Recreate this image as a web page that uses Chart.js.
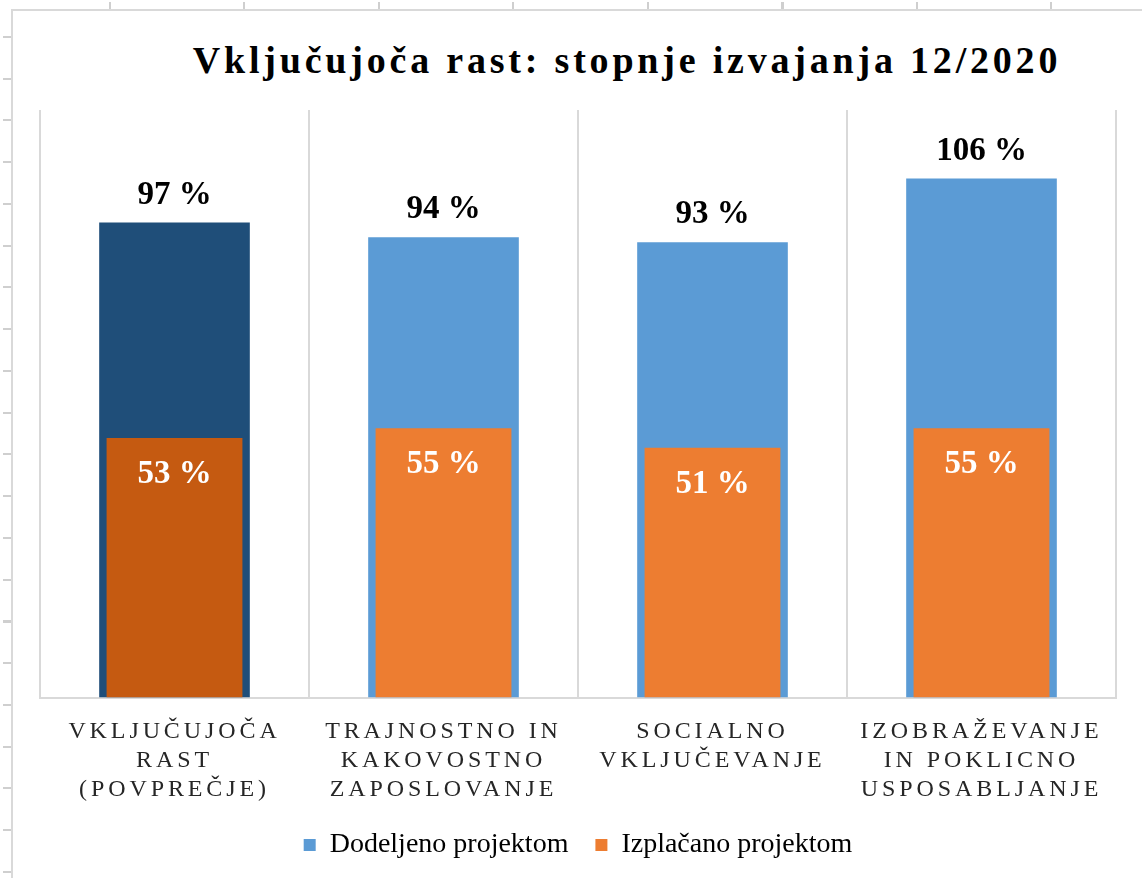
<!DOCTYPE html>
<html lang="sl">
<head>
<meta charset="utf-8">
<title>Vključujoča rast</title>
<script src="https://cdn.jsdelivr.net/npm/chart.js@4/dist/chart.umd.min.js"></script>
<style>
  body { margin: 0; background: #fff; width: 1142px; height: 878px; overflow: hidden; position: relative; }
  .okvir { position: absolute; left: 11px; top: 9px; right: 0; bottom: 0; border-left: 2px solid #d9d9d9; border-top: 2px solid #d9d9d9; }
  .crtice-levo { position: absolute; left: 3px; top: 36px; width: 8px; height: 842px;
    background: repeating-linear-gradient(to bottom, #cfcfcf 0 2px, transparent 2px 41.75px); }
  .crtice-zgoraj { position: absolute; left: 109px; top: 2px; width: 1033px; height: 7px;
    background: repeating-linear-gradient(to right, #cfcfcf 0 2px, transparent 2px 134.5px); }
  h1 { position: absolute; left: 112px; right: 0; top: 41px; margin: 0; text-align: center;
    font: bold 38px/1 "Liberation Serif", serif; letter-spacing: 3.8px; color: #000; }
  canvas { position: absolute; left: 11px; top: 10px; }
</style>
</head>
<body>
<div class="crtice-levo"></div>
<div class="crtice-zgoraj"></div>
<div class="okvir"></div>
<h1>Vključujoča rast: stopnje izvajanja 12/2020</h1>
<canvas id="graf" width="1131" height="868"></canvas>
<script>
// Podatki
const kategorije = [
  ['VKLJUČUJOČA', 'RAST', '(POVPREČJE)'],
  ['TRAJNOSTNO IN', 'KAKOVOSTNO', 'ZAPOSLOVANJE'],
  ['SOCIALNO', 'VKLJUČEVANJE'],
  ['IZOBRAŽEVANJE', 'IN POKLICNO', 'USPOSABLJANJE']
];
const dodeljeno = [97, 94, 93, 106];
const izplacano = [53, 55, 51, 55];

const barveDodeljeno = ['#1f4e79', '#5b9bd5', '#5b9bd5', '#5b9bd5'];
const barveIzplacano = ['#c55a11', '#ed7d31', '#ed7d31', '#ed7d31'];
const barveLegende = ['#5b9bd5', '#ed7d31'];

// Razmik med črkami pri oznakah osi x
const razmikCrk = {
  id: 'razmikCrk',
  beforeDraw(chart) {
    const os = chart.scales.x;
    if (!os._razmik) {
      const izvirno = os.drawLabels.bind(os);
      os.drawLabels = function (obmocje) {
        const ctx = this.ctx;
        ctx.save();
        ctx.letterSpacing = '3.9px';
        izvirno(obmocje);
        ctx.restore();
      };
      os._razmik = true;
    }
  }
};

// Odstotki nad in v stolpcih
const odstotki = {
  id: 'odstotki',
  afterDatasetsDraw(chart) {
    const ctx = chart.ctx;
    ctx.save();
    ctx.font = 'bold 33px "Liberation Serif"';
    ctx.textAlign = 'center';
    ctx.textBaseline = 'alphabetic';
    chart.getDatasetMeta(0).data.forEach((stolpec, i) => {
      ctx.fillStyle = '#000';
      ctx.fillText(dodeljeno[i] + ' %', stolpec.x, stolpec.y - 19);
    });
    chart.getDatasetMeta(1).data.forEach((stolpec, i) => {
      ctx.fillStyle = '#fff';
      ctx.fillText(izplacano[i] + ' %', stolpec.x, stolpec.y + 45);
    });
    ctx.restore();
  }
};

const ctx = document.getElementById('graf').getContext('2d');
new Chart(ctx, {
  type: 'bar',
  data: {
    labels: kategorije,
    datasets: [
      {
        label: 'Dodeljeno projektom',
        data: dodeljeno,
        backgroundColor: barveDodeljeno,
        borderWidth: 0,
        grouped: false,
        barPercentage: 0.56,
        categoryPercentage: 1,
        order: 1
      },
      {
        label: 'Izplačano projektom',
        data: izplacano,
        backgroundColor: barveIzplacano,
        borderWidth: 0,
        grouped: false,
        barPercentage: 0.505,
        categoryPercentage: 1,
        order: 0
      }
    ]
  },
  options: {
    responsive: false,
    animation: false,
    layout: { padding: { left: 29, right: 26, top: 100, bottom: 9 } },
    scales: {
      x: {
        // padding se šteje dvakrat, spodnjega ne rabimo
        afterFit: (os) => { os.height -= 20; },
        grid: { color: '#d9d9d9', lineWidth: 2, drawTicks: false, offset: true },
        border: { color: '#d9d9d9', width: 2 },
        ticks: {
          color: '#262626',
          padding: 20,
          maxRotation: 0,
          autoSkip: false,
          font: { family: '"Liberation Serif"', size: 24, lineHeight: 1.2 }
        }
      },
      y: { display: false, min: 0, max: 120 }
    },
    plugins: {
      tooltip: { enabled: false },
      legend: {
        position: 'bottom',
        labels: {
          color: '#262626',
          boxWidth: 12,
          boxHeight: 12,
          padding: 27,
          font: { family: '"Liberation Serif"', size: 28 },
          generateLabels: (chart) => chart.data.datasets.map((ds, i) => ({
            text: ds.label,
            fillStyle: barveLegende[i],
            strokeStyle: barveLegende[i],
            lineWidth: 0,
            hidden: false,
            datasetIndex: i
          }))
        }
      }
    }
  },
  plugins: [razmikCrk, odstotki]
});
</script>
</body>
</html>
